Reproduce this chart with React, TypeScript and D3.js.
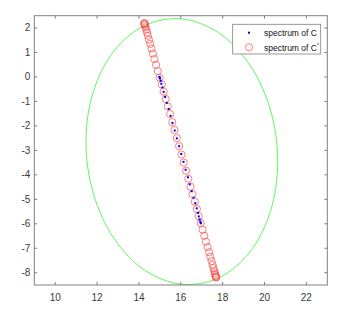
import React from "react";
import * as d3 from "d3";

// spectrum of C (blue dots): real / imaginary parts
const blueRe = [14.98, 14.99, 15.01, 15.04, 15.07, 15.12, 15.18, 15.25, 15.33, 15.42, 15.51, 15.6, 15.71, 15.81, 15.92,
  16.02, 16.13, 16.23, 16.34, 16.43, 16.52, 16.61, 16.69, 16.76, 16.82, 16.86, 16.9, 16.93, 16.95, 16.96];
const blueIm = [0, -0.02, -0.07, -0.16, -0.28, -0.43, -0.61, -0.82, -1.06, -1.31, -1.59, -1.88, -2.19, -2.51, -2.83,
  -3.15, -3.47, -3.79, -4.1, -4.39, -4.67, -4.93, -5.16, -5.37, -5.55, -5.7, -5.82, -5.91, -5.96, -5.98];

// spectrum of C* (red circles)
const redRe = [14.26, 14.26, 14.27, 14.29, 14.32, 14.35, 14.39, 14.43, 14.48, 14.54, 14.6, 14.67, 14.74, 14.82, 14.9,
  14.99, 15.09, 15.18, 15.28, 15.38, 15.49, 15.59, 15.7, 15.81, 15.92, 16.03, 16.14, 16.25, 16.36, 16.46, 16.56,
  16.67, 16.77, 16.86, 16.95, 17.04, 17.12, 17.2, 17.28, 17.35, 17.41, 17.47, 17.52, 17.56, 17.6, 17.63, 17.65,
  17.67, 17.68, 17.69];
const redIm = [2.19, 2.18, 2.15, 2.09, 2.02, 1.93, 1.81, 1.68, 1.52, 1.35, 1.16, 0.95, 0.73, 0.49, 0.24,
  -0.03, -0.31, -0.6, -0.9, -1.21, -1.52, -1.85, -2.17, -2.5, -2.83, -3.17, -3.5, -3.83, -4.16, -4.48, -4.79,
  -5.1, -5.4, -5.69, -5.97, -6.24, -6.49, -6.73, -6.95, -7.16, -7.35, -7.52, -7.68, -7.81, -7.93, -8.02, -8.09,
  -8.15, -8.18, -8.19];

// green boundary curve
const ellRe = [20.63, 20.28, 19.29, 17.8, 16.05, 14.3, 12.81, 11.82, 11.47, 11.82, 12.81, 14.3, 16.05, 17.8, 19.29, 20.28];
const ellIm = [-3.45, -1.34, 0.5, 1.81, 2.37, 2.11, 1.06, -0.6, -2.65, -4.76, -6.6, -7.91, -8.47, -8.21, -7.16, -5.5];

const xTicks = [10, 12, 14, 16, 18, 20, 22];
const yTicks = [2, 1, 0, -1, -2, -3, -4, -5, -6, -7, -8];

const W = 350, H = 321;
const axisColor = "#808080";
const textColor = "#3a3a3a";
const font = "'Liberation Sans', Arial, sans-serif";

export default function App() {
  const x = d3.scaleLinear().domain([9, 23]).range([34.3, 327.3]);
  const y = d3.scaleLinear().domain([-8.5, 2.5]).range([285, 15.7]);
  const [x0, x1] = x.range();
  const [y0, y1] = y.range();

  const ell = d3.line<number>()
    .x(i => x(ellRe[i]))
    .y(i => y(ellIm[i]))
    .curve(d3.curveCatmullRomClosed);

  const tk = 3;

  return (
    <svg width={W} height={H} style={{ position: "absolute", left: 0, top: 0, background: "#fff" }}
      fontFamily={font}>
      <rect x={0} y={0} width={W} height={H} fill="#fff" />
      <rect x={x0} y={y1} width={x1 - x0} height={y0 - y1} fill="#fff" />

      <path d={ell(d3.range(ellRe.length)) || ""} fill="none" stroke="#4cf54c" strokeWidth={0.9} />

      {redRe.map((v, i) => (
        <circle key={`r${i}`} cx={x(v)} cy={y(redIm[i])} r={3.6} fill="none" stroke="#ff3a3a" strokeWidth={0.65} />
      ))}
      {blueRe.map((v, i) => (
        <rect key={`b${i}`} x={x(v) - 1} y={y(blueIm[i]) - 1} width={2} height={2} fill="#0000ff" />
      ))}

      {/* axes box */}
      <rect x={x0} y={y1} width={x1 - x0} height={y0 - y1} fill="none" stroke={axisColor} strokeWidth={1} />
      {xTicks.map(t => (
        <g key={`x${t}`}>
          <line x1={x(t)} x2={x(t)} y1={y0} y2={y0 - tk} stroke={axisColor} />
          <line x1={x(t)} x2={x(t)} y1={y1} y2={y1 + tk} stroke={axisColor} />
          <text x={x(t)} y={y0 + 16} textAnchor="middle" fontSize={10} fill={textColor}>{t}</text>
        </g>
      ))}
      {yTicks.map(t => (
        <g key={`y${t}`}>
          <line x1={x0} x2={x0 + tk} y1={y(t)} y2={y(t)} stroke={axisColor} />
          <line x1={x1} x2={x1 - tk} y1={y(t)} y2={y(t)} stroke={axisColor} />
          <text x={x0 - 4} y={y(t)} dy="0.35em" textAnchor="end" fontSize={10} fill={textColor}>{t}</text>
        </g>
      ))}

      {/* legend */}
      <g>
        <rect x={232.7} y={24.3} width={88} height={29.7} fill="#fff" stroke={axisColor} strokeWidth={0.8} />
        <rect x={248} y={31.7} width={2} height={2} fill="#0000ff" />
        <text x={264} y={32.7} dy="0.35em" fontSize={8.5} fill="#111">spectrum of C</text>
        <circle cx={249} cy={47.3} r={3.6} fill="none" stroke="#ff3a3a" strokeWidth={0.65} />
        <text x={264} y={47.7} dy="0.35em" fontSize={8.5} fill="#111">
          spectrum of C<tspan dy="-4" fontSize={5}>*</tspan>
        </text>
      </g>
    </svg>
  );
}
